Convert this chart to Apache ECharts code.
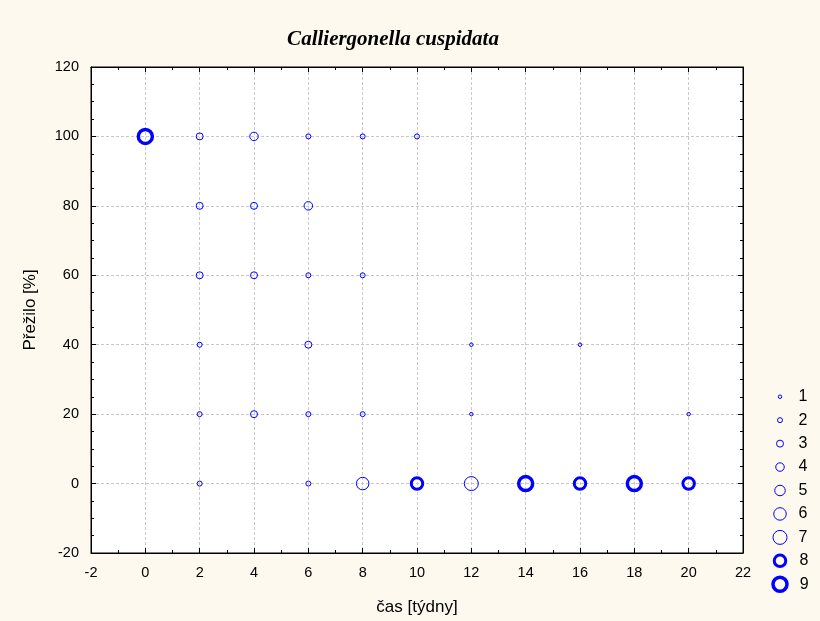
<!DOCTYPE html>
<html><head><meta charset="utf-8">
<script src="https://cdn.jsdelivr.net/npm/echarts@6/dist/echarts.min.js"></script>
<style>html,body{margin:0;padding:0;background:#fdf9ee}#c{width:820px;height:621px}</style>
</head><body><div id="c"></div>
<script>
// Data: week, survival %, count class (bubble size)
const weeks   = [0, 2, 4, 6, 8, 10,  2, 4, 6,  2, 4, 6, 8,  2, 6, 12, 16,  2, 4, 6, 8, 12, 20,  2, 6, 8, 10, 12, 14, 16, 18, 20];
const survive = [100,100,100,100,100,100, 80,80,80, 60,60,60,60, 40,40,40,40, 20,20,20,20,20,20, 0,0,0,0,0,0,0,0,0];
const counts  = [9, 3, 4, 2, 2, 2,  3, 3, 4,  3, 3, 2, 2,  2, 3, 1, 1,  2, 3, 2, 2, 1, 1,  2, 2, 6, 8, 7, 9, 8, 9, 8];
const legendClasses = [1,2,3,4,5,6,7,8,9];
const xTicks = [-2, 22, 2];
const yTicks = [-20, 120, 20];

const sizeOf = {1:3.5,2:5,3:7,4:8.5,5:10.5,6:12.5,7:14,8:11.5,9:14};
const bwOf   = {1:1,2:1,3:1,4:1,5:1,6:1,7:1,8:3,9:3.5};
const blue = '#0000ff';

const series = [];
legendClasses.forEach(c => {
  const d = [];
  for (let i = 0; i < weeks.length; i++) if (counts[i] === c) d.push([weeks[i], survive[i]]);
  series.push({
    type: 'scatter', xAxisIndex: 0, yAxisIndex: 0, data: d, symbol: 'circle',
    symbolSize: sizeOf[c], silent: true,
    itemStyle: {color: 'rgba(0,0,0,0)', borderColor: blue, borderWidth: bwOf[c], opacity: 1}
  });
  series.push({
    type: 'scatter', xAxisIndex: 2, yAxisIndex: 2, data: [[0, String(c)]], symbol: 'circle',
    symbolSize: sizeOf[c], silent: true,
    itemStyle: {color: 'rgba(0,0,0,0)', borderColor: blue, borderWidth: bwOf[c], opacity: 1},
    label: {show: true, position: 'right', distance: 0, formatter: String(c), color: '#000',
      fontFamily: 'Liberation Sans', fontSize: 16, offset: [18 - sizeOf[c]/2, 0]}
  });
});

const font = 'Liberation Sans';
const tickCommon = {inside: true, length: 5, lineStyle: {color: '#000'}};
const chart = echarts.init(document.getElementById('c'));
chart.setOption({
  backgroundColor: '#fdf9ee',
  animation: false,
  title: {text: 'Calliergonella cuspidata', left: 388, top: 24, textAlign: 'center',
    textStyle: {fontFamily: 'Liberation Serif', fontStyle: 'italic', fontWeight: 'bold', fontSize: 21, color: '#000'}},
  grid: [
    {left: 91, top: 67, width: 652, height: 487, show: true, backgroundColor: '#ffffff', borderColor: '#000', borderWidth: 1},
    {left: 770, top: 385, width: 20, height: 211, show: false}
  ],
  xAxis: [
    {type: 'value', gridIndex: 0, min: xTicks[0], max: xTicks[1], interval: xTicks[2], position: 'bottom',
      name: 'čas [týdny]', nameLocation: 'middle', nameGap: 46,
      nameTextStyle: {fontFamily: font, fontSize: 17, color: '#000'},
      axisLine: {onZero: false, lineStyle: {color: '#000'}},
      axisTick: tickCommon,
      minorTick: {show: true, splitNumber: 2, length: 3, lineStyle: {color: '#000'}},
      axisLabel: {fontFamily: font, fontSize: 14.5, color: '#000', margin: 12},
      splitLine: {show: true, lineStyle: {color: '#c8c8c8', type: [3, 2]}}},
    {type: 'value', gridIndex: 0, min: xTicks[0], max: xTicks[1], interval: xTicks[2], position: 'top',
      axisLine: {onZero: false, lineStyle: {color: '#000'}},
      axisTick: tickCommon,
      minorTick: {show: true, splitNumber: 2, length: 3, lineStyle: {color: '#000'}},
      axisLabel: {show: false}, splitLine: {show: false}},
    {type: 'value', gridIndex: 1, min: -1, max: 1, show: false}
  ],
  yAxis: [
    {type: 'value', gridIndex: 0, min: yTicks[0], max: yTicks[1], interval: yTicks[2], position: 'left',
      name: 'Přežilo [%]', nameLocation: 'middle', nameGap: 52,
      nameTextStyle: {fontFamily: font, fontSize: 17, color: '#000'},
      axisLine: {onZero: false, lineStyle: {color: '#000'}},
      axisTick: tickCommon,
      minorTick: {show: true, splitNumber: 4, length: 3, lineStyle: {color: '#000'}},
      axisLabel: {fontFamily: font, fontSize: 14.5, color: '#000', margin: 12},
      splitLine: {show: true, lineStyle: {color: '#c8c8c8', type: [3, 2]}}},
    {type: 'value', gridIndex: 0, min: yTicks[0], max: yTicks[1], interval: yTicks[2], position: 'right',
      axisLine: {onZero: false, lineStyle: {color: '#000'}},
      axisTick: tickCommon,
      minorTick: {show: true, splitNumber: 4, length: 3, lineStyle: {color: '#000'}},
      axisLabel: {show: false}, splitLine: {show: false}},
    {type: 'category', gridIndex: 1, data: legendClasses.map(String), inverse: true, show: false,
      boundaryGap: true}
  ],
  series: series
});
</script></body></html>
